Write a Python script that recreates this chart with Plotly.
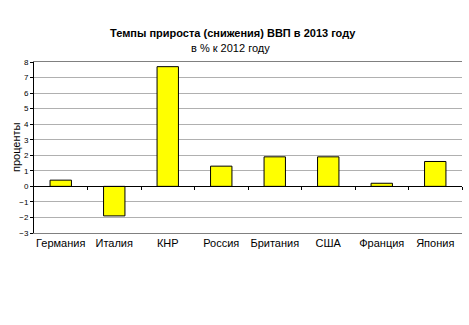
import numpy as np
import plotly.graph_objects as go

categories = ["Германия", "Италия", "КНР", "Россия", "Британия", "США", "Франция", "Япония"]
values = [0.4, -1.9, 7.7, 1.3, 1.9, 1.9, 0.2, 1.6]
y_ticks = list(range(-3, 9))

title_main = "Темпы прироста (снижения) ВВП в 2013 году"
title_sub = "в % к 2012 году"
y_title = "проценты"

FONT = "Liberation Sans, Arial, sans-serif"

fig = go.Figure()
fig.add_trace(go.Bar(
    x=categories, y=values,
    marker=dict(color="#FFFF00", line=dict(color="#000000", width=1)),
    width=0.4, showlegend=False,
))

n = len(categories)
fig.update_layout(
    width=469, height=325,
    paper_bgcolor="white", plot_bgcolor="white",
    margin=dict(l=34, r=7, t=62, b=92),
    font=dict(family=FONT, color="black"),
    xaxis=dict(
        type="category", categoryarray=categories, range=[-0.5, n - 0.5],
        showline=True, linecolor="#808080", linewidth=1, mirror=True,
        ticks="", showgrid=False, tickfont=dict(size=11, family=FONT),
        ticklabelstandoff=0,
    ),
    xaxis2=dict(
        overlaying="x", anchor="free", position=3 / 11, range=[-0.5, n - 0.5],
        showline=True, linecolor="black", linewidth=1,
        tickmode="array", tickvals=list(np.arange(n) + 0.5),
        ticks="outside", ticklen=3, tickcolor="black",
        showticklabels=False, showgrid=False, zeroline=False,
    ),
    yaxis=dict(
        range=[-3, 8], tickmode="array", tickvals=y_ticks,
        showgrid=True, gridcolor="#B0B0B0", gridwidth=1,
        zeroline=False,
        showline=True, linecolor="black", linewidth=1,
        ticks="outside", ticklen=3, tickcolor="black",
        tickfont=dict(size=8, family=FONT),
    ),
    annotations=[
        dict(text=f"<b>{title_main}</b>", xref="paper", yref="paper",
             x=0.465, y=1, yshift=29, xanchor="center", yanchor="middle",
             showarrow=False, font=dict(size=11, family=FONT)),
        dict(text=title_sub, xref="paper", yref="paper",
             x=0.46, y=1, yshift=14, xanchor="center", yanchor="middle",
             showarrow=False, font=dict(size=11, family=FONT)),
        dict(text=y_title, xref="paper", yref="paper", textangle=-90,
             x=0, y=0.5, xshift=-18.5, xanchor="center", yanchor="middle",
             showarrow=False, font=dict(size=11, family=FONT)),
    ],
)
# invisible trace to activate xaxis2
fig.add_trace(go.Scatter(x=[0], y=[None], xaxis="x2", showlegend=False, hoverinfo="skip"))

fig.write_html("out.html")
